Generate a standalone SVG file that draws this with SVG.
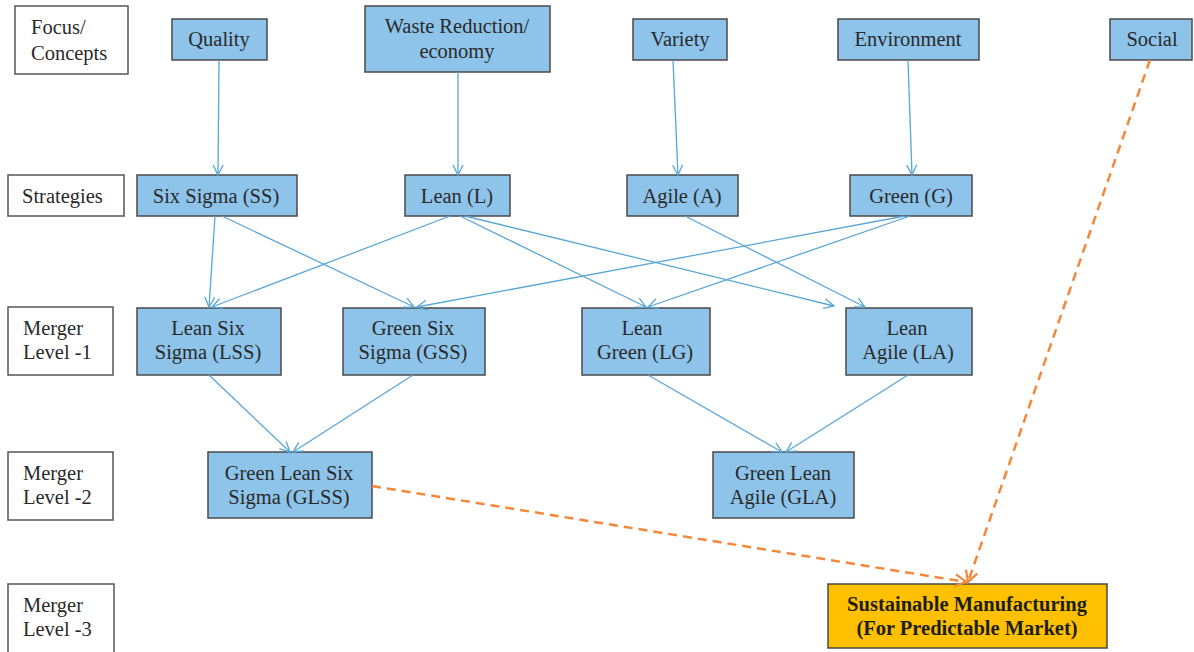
<svg xmlns="http://www.w3.org/2000/svg" width="1194" height="652" viewBox="0 0 1194 652" font-family="'Liberation Serif', 'DejaVu Serif', serif">
<style>
.lbl rect{fill:#fff;stroke:#555;stroke-width:1.5}
.lbl text{text-anchor:start}
.nd rect{fill:#8ec4ea;stroke:#4a4a4a;stroke-width:1.5}
.gold rect{fill:#ffc000;stroke:#4a4a4a;stroke-width:1.5}
text{font-family:'Liberation Serif','DejaVu Serif',serif;font-size:20.5px;fill:#2a2a2a;text-anchor:middle}
.b{font-weight:bold;font-size:20.5px;fill:#1e1e10}
.c line{stroke:#5aa6d6;stroke-width:1.3;marker-end:url(#ab)}
.d line{stroke:#f5873a;stroke-width:2.5;stroke-dasharray:9 6;marker-end:url(#ao)}
</style>
<defs>
<marker id="ab" markerWidth="14" markerHeight="14" refX="12" refY="6" orient="auto" markerUnits="userSpaceOnUse">
<path d="M2,1 L12,6 L2,11" fill="none" stroke="#5aa6d6" stroke-width="1.3"/>
</marker>
<marker id="ao" markerWidth="16" markerHeight="16" refX="13" refY="7" orient="auto" markerUnits="userSpaceOnUse">
<path d="M2,1 L13,7 L2,13" fill="none" stroke="#f5873a" stroke-width="2.2"/>
</marker>
</defs>
<rect width="1194" height="652" fill="#fff"/>

<g id="lbl-focus" class="lbl"><rect x="15" y="6" width="113" height="68"/><text x="31" y="34">Focus/</text><text x="31" y="60">Concepts</text></g>
<g id="lbl-strategies" class="lbl"><rect x="8" y="175" width="116" height="41"/><text x="22" y="203">Strategies</text></g>
<g id="lbl-m1" class="lbl"><rect x="8" y="307" width="105" height="68"/><text x="23" y="335">Merger</text><text x="23" y="359">Level -1</text></g>
<g id="lbl-m2" class="lbl"><rect x="8" y="452" width="105" height="68"/><text x="23" y="480">Merger</text><text x="23" y="504">Level -2</text></g>
<g id="lbl-m3" class="lbl"><rect x="8" y="584" width="106" height="70"/><text x="23" y="612">Merger</text><text x="23" y="636">Level -3</text></g>

<g id="quality" class="nd"><rect x="172" y="19" width="95" height="41"/><text x="219" y="46">Quality</text></g>
<g id="waste" class="nd"><rect x="365" y="6" width="185" height="66"/><text x="457" y="33">Waste Reduction/</text><text x="457" y="58">economy</text></g>
<g id="variety" class="nd"><rect x="633" y="19" width="94" height="41"/><text x="680" y="46">Variety</text></g>
<g id="environment" class="nd"><rect x="838" y="19" width="141" height="41"/><text x="908" y="46">Environment</text></g>
<g id="social" class="nd"><rect x="1110" y="19" width="82" height="41"/><text x="1152" y="46">Social</text></g>

<g id="ss" class="nd"><rect x="137" y="175" width="160" height="41"/><text x="216" y="203">Six Sigma (SS)</text></g>
<g id="lean" class="nd"><rect x="405" y="175" width="105" height="41"/><text x="457" y="203">Lean (L)</text></g>
<g id="agile" class="nd"><rect x="627" y="175" width="111" height="41"/><text x="682" y="203">Agile (A)</text></g>
<g id="green" class="nd"><rect x="850" y="175" width="122" height="41"/><text x="911" y="203">Green (G)</text></g>

<g id="lss" class="nd"><rect x="137" y="308" width="144" height="67"/><text x="208" y="335">Lean Six</text><text x="208" y="359">Sigma (LSS)</text></g>
<g id="gss" class="nd"><rect x="343" y="308" width="142" height="67"/><text x="413" y="335">Green Six</text><text x="413" y="359">Sigma (GSS)</text></g>
<g id="lg" class="nd"><rect x="582" y="308" width="128" height="67"/><text x="642" y="335">Lean</text><text x="645" y="359">Green (LG)</text></g>
<g id="la" class="nd"><rect x="846" y="308" width="126" height="67"/><text x="907" y="335">Lean</text><text x="908" y="359">Agile (LA)</text></g>

<g id="glss" class="nd"><rect x="208" y="452" width="164" height="66"/><text x="289" y="480">Green Lean Six</text><text x="289" y="504">Sigma (GLSS)</text></g>
<g id="gla" class="nd"><rect x="713" y="452" width="141" height="66"/><text x="783" y="480">Green Lean</text><text x="783" y="504">Agile (GLA)</text></g>

<g id="sustainable" class="gold"><rect x="828" y="584" width="279" height="64"/><text class="b" x="967" y="611">Sustainable Manufacturing</text><text class="b" x="967" y="635">(For Predictable Market)</text></g>

<g id="connectors">
<g class="c">
<line x1="219" y1="60" x2="218" y2="175"/>
<line x1="458" y1="72" x2="458" y2="175"/>
<line x1="673" y1="60" x2="678" y2="175"/>
<line x1="908" y1="60" x2="912" y2="175"/>
<line x1="215" y1="216" x2="209" y2="307"/>
<line x1="222" y1="216" x2="414" y2="307"/>
<line x1="450" y1="216" x2="212" y2="307"/>
<line x1="460" y1="216" x2="646" y2="307"/>
<line x1="465" y1="216" x2="834" y2="306"/>
<line x1="685" y1="216" x2="865" y2="307"/>
<line x1="905" y1="216" x2="417" y2="307"/>
<line x1="910" y1="216" x2="648" y2="307"/>
<line x1="209" y1="375" x2="290" y2="452"/>
<line x1="413" y1="375" x2="293" y2="452"/>
<line x1="648" y1="375" x2="782" y2="452"/>
<line x1="908" y1="375" x2="786" y2="452"/>
</g>
<g class="d">
<line x1="372" y1="486" x2="966" y2="582"/>
<line x1="1150" y1="60" x2="968" y2="582"/>
</g>
</g>
</svg>
